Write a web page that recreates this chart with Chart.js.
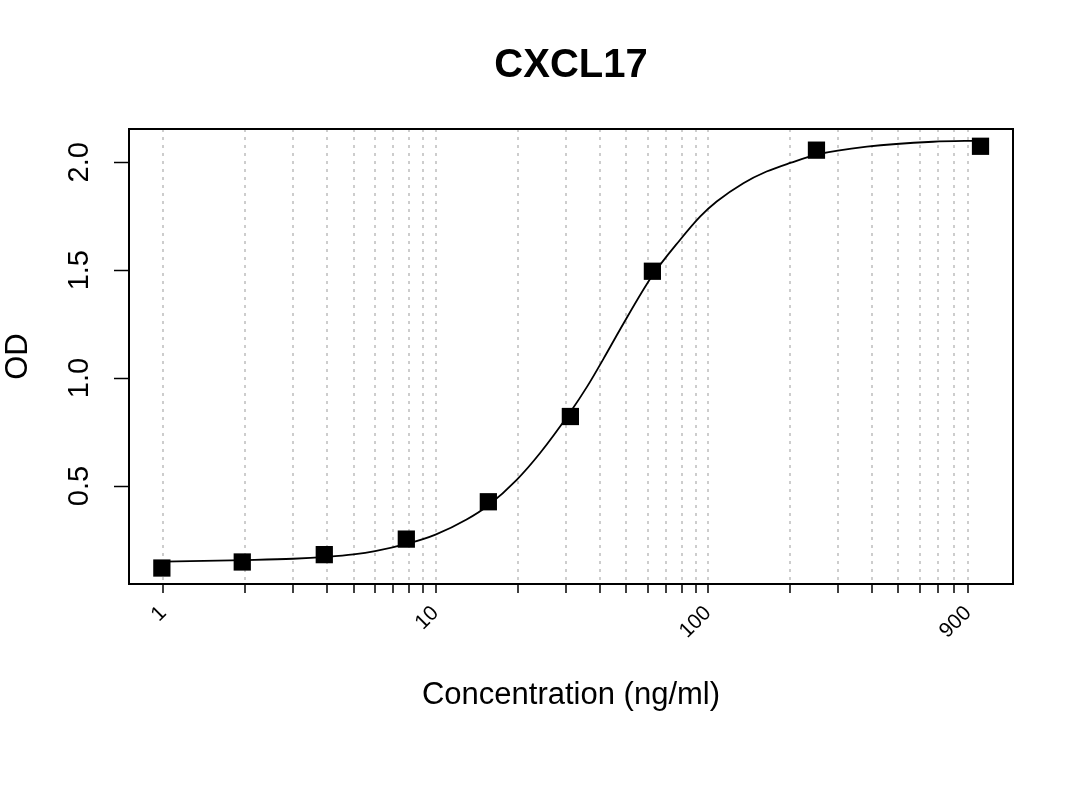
<!DOCTYPE html>
<html>
<head>
<meta charset="utf-8">
<script src="https://cdn.jsdelivr.net/npm/chart.js@4.4.1/dist/chart.umd.min.js"></script>
<style>
  html, body { margin: 0; padding: 0; background: #ffffff; }
  #wrap { width: 1080px; height: 810px; }
</style>
</head>
<body>
<div id="wrap"><canvas id="c" width="1080" height="810"></canvas></div>
<script>
// ---- Data ----
const chartTitle = "CXCL17";
const xAxisTitle = "Concentration (ng/ml)";
const yAxisTitle = "OD";

// Standard points
const concentrations = [1000, 250, 62.5, 31.25, 15.625, 7.8125, 3.906, 1.953, 0.99];
const odValues       = [2.074, 2.056, 1.495, 0.822, 0.427, 0.254, 0.182, 0.148, 0.120];

// Fitted curve
const curveConc = [1, 2, 3, 4, 5, 6, 8, 10, 13, 15.6, 19.9, 24.2, 31.25, 35.9, 42.5, 47.5, 62.5, 78.9, 93.5, 107.6, 134.8, 164, 201.7, 250, 383, 670, 1000];
const curveOD   = [0.150, 0.157, 0.163, 0.172, 0.183, 0.198, 0.235, 0.275, 0.345, 0.410, 0.530, 0.653, 0.843, 0.958, 1.116, 1.224, 1.475, 1.640, 1.748, 1.818, 1.903, 1.957, 1.998, 2.035, 2.072, 2.095, 2.100];

// Axis ticks
const xTickValues = [1,2,3,4,5,6,7,8,9,10,20,30,40,50,60,70,80,90,100,200,300,400,500,600,700,800,900];
const xTickLabels = {1: "1", 10: "10", 100: "100", 900: "900"};
const yTickValues = [0.5, 1.0, 1.5, 2.0];
const xRange = [0.75, 1316];
const yRange = [0.046, 2.154];

// ---- Chart ----
const FONT = "'Liberation Sans', Arial, Helvetica, sans-serif";

const boxPlugin = {
  id: 'plotBox',
  beforeDatasetsDraw(chart) {
    const {ctx, chartArea: a} = chart;
    ctx.save();
    ctx.strokeStyle = '#000';
    ctx.lineWidth = 2;
    ctx.strokeRect(a.left, a.top, a.right - a.left, a.bottom - a.top);
    ctx.restore();
  }
};

const pointsData = concentrations.map((c, i) => ({x: c, y: odValues[i]}));
const curveData = curveConc.map((c, i) => ({x: c, y: curveOD[i]}));

new Chart(document.getElementById('c'), {
  type: 'scatter',
  data: {
    datasets: [
      {
        label: 'Standards',
        data: pointsData,
        pointStyle: 'rect',
        pointRadius: 12.2,
        pointHoverRadius: 12.2,
        backgroundColor: '#000',
        borderColor: '#000',
        borderWidth: 0,
        showLine: false
      },
      {
        label: 'Fit',
        type: 'line',
        data: curveData,
        borderColor: '#000',
        borderWidth: 1.8,
        pointRadius: 0,
        fill: false,
        cubicInterpolationMode: 'monotone'
      }
    ]
  },
  options: {
    responsive: false,
    devicePixelRatio: 1,
    animation: false,
    layout: { padding: { left: 0, right: 67, top: 0, bottom: 96 } },
    plugins: {
      legend: { display: false },
      tooltip: { enabled: false },
      title: {
        display: true,
        text: chartTitle,
        fullSize: false,
        color: '#000',
        font: { family: FONT, size: 40, weight: 'bold', lineHeight: 1.2 },
        padding: { top: 42, bottom: 39 }
      }
    },
    scales: {
      x: {
        type: 'logarithmic',
        min: xRange[0],
        max: xRange[1],
        bounds: 'data',
        afterBuildTicks(scale) {
          scale.ticks = xTickValues.map(v => ({value: v}));
        },
        afterFit(scale) { scale.height = 130; },
        grid: {
          display: true,
          drawOnChartArea: true,
          drawTicks: true,
          color: '#cdcdcd',
          lineWidth: 2,
          tickLength: 9,
          tickColor: '#000',
          tickWidth: 1.5
        },
        border: { display: true, color: '#000', width: 2, dash: [3, 5] },
        ticks: {
          autoSkip: false,
          minRotation: 45,
          maxRotation: 45,
          padding: 8,
          color: '#000',
          font: { family: FONT, size: 21 },
          callback: (v) => xTickLabels[v] || ''
        },
        title: {
          display: true,
          text: xAxisTitle,
          color: '#000',
          font: { family: FONT, size: 31, lineHeight: 1.2 },
          padding: { top: 0, bottom: 0 }
        }
      },
      y: {
        type: 'linear',
        min: yRange[0],
        max: yRange[1],
        bounds: 'data',
        afterBuildTicks(scale) {
          scale.ticks = yTickValues.map(v => ({value: v}));
        },
        afterFit(scale) { scale.width = 129; },
        grid: {
          display: true,
          drawOnChartArea: false,
          drawTicks: true,
          tickLength: 15,
          tickColor: '#000',
          tickWidth: 1.5,
          color: '#000'
        },
        border: { display: true, color: '#000', width: 2 },
        ticks: {
          minRotation: 90,
          maxRotation: 90,
          crossAlign: 'center',
          padding: 14,
          color: '#000',
          font: { family: FONT, size: 29 },
          callback: (v) => Number(v).toFixed(1)
        },
        title: {
          display: true,
          text: yAxisTitle,
          color: '#000',
          font: { family: FONT, size: 31, lineHeight: 1.2 },
          padding: { top: 0, bottom: 0 }
        }
      }
    }
  },
  plugins: [boxPlugin]
});
</script>
</body>
</html>
